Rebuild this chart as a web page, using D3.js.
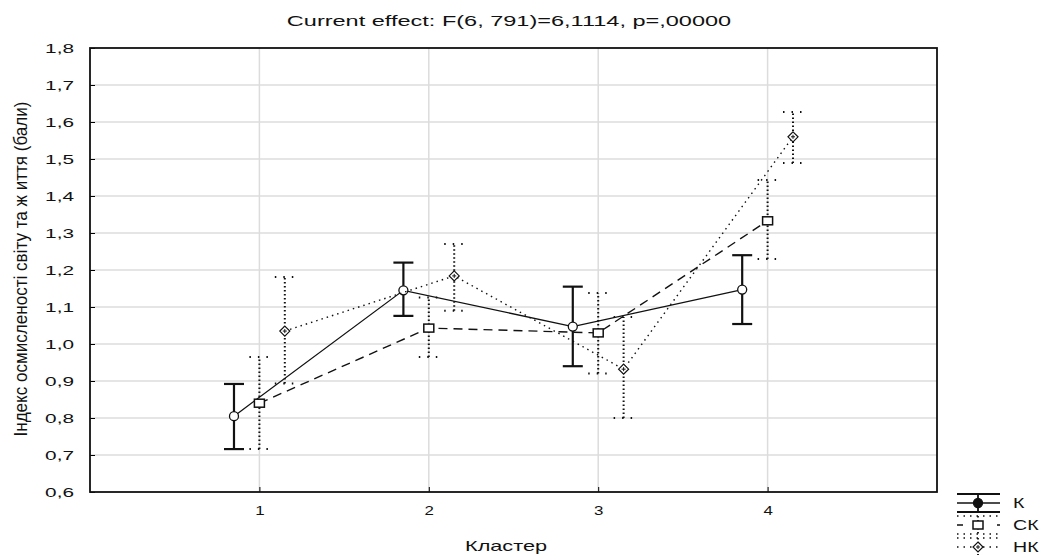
<!DOCTYPE html>
<html>
<head>
<meta charset="utf-8">
<script src="https://cdn.jsdelivr.net/npm/d3@7"></script>
<style>
  body { margin: 0; background: #fff; }
  text { font-family: "Liberation Sans", Arial, sans-serif; fill: #111; }
</style>
</head>
<body>
<div id="chart"></div>
<script>
// data
const clusters = [1, 2, 3, 4];
const yTicks = [0.6, 0.7, 0.8, 0.9, 1.0, 1.1, 1.2, 1.3, 1.4, 1.5, 1.6, 1.7, 1.8];

const meanK = [0.805, 1.145, 1.047, 1.147];
const loK   = [0.716, 1.076, 0.940, 1.054];
const hiK   = [0.892, 1.220, 1.155, 1.240];

const meanCK = [0.840, 1.043, 1.030, 1.333];
const loCK   = [0.716, 0.965, 0.920, 1.230];
const hiCK   = [0.965, 1.126, 1.138, 1.443];

const meanHK = [1.035, 1.184, 0.932, 1.560];
const loHK   = [0.893, 1.090, 0.800, 1.489];
const hiHK   = [1.181, 1.270, 1.073, 1.627];

const groupNames = ["К", "СК", "НК"];

const series = [
  {name: groupNames[0], mean: meanK, lo: loK, hi: hiK, offset: -0.15, dash: null, barDash: null, marker: "circle"},
  {name: groupNames[1], mean: meanCK, lo: loCK, hi: hiCK, offset: 0, dash: "9,6", barDash: "1.5,2.5", marker: "square"},
  {name: groupNames[2], mean: meanHK, lo: loHK, hi: hiHK, offset: 0.15, dash: "1.5,4", barDash: "1.5,2.5", marker: "diamond"}
];

const width = 1041, height = 555;
const margin = {top: 48, right: 104, bottom: 63, left: 90};
// the source picture is stretched sideways, so text gets a horizontal scale
const sx = 1.6;

const svg = d3.select("#chart").append("svg")
  .attr("width", width).attr("height", height);

const x = d3.scaleLinear().domain([0, 5]).range([margin.left, width - margin.right]);
const y = d3.scaleLinear().domain([0.6, 1.8]).range([height - margin.bottom, margin.top]);
const fmt = d => d3.format(".1f")(d).replace(".", ",");

const wideText = (px, py, str, size, anchor, k = sx) =>
  svg.append("text")
    .attr("transform", `translate(${px},${py}) scale(${k},1)`)
    .attr("text-anchor", anchor)
    .style("font-size", size + "px")
    .text(str);

// grid
svg.append("g").selectAll("line").data(yTicks.slice(1, -1)).join("line")
  .attr("x1", x(0)).attr("x2", x(5))
  .attr("y1", d => y(d)).attr("y2", d => y(d))
  .attr("stroke", "#dcdcdc").attr("stroke-width", 1.5);
svg.append("g").selectAll("line").data(clusters).join("line")
  .attr("x1", d => x(d)).attr("x2", d => x(d))
  .attr("y1", y(0.6)).attr("y2", y(1.8))
  .attr("stroke", "#dcdcdc").attr("stroke-width", 1.5);

// axes (ticks inside)
const yAxis = svg.append("g")
  .attr("transform", `translate(${x(0)},0)`)
  .call(d3.axisLeft(y).tickValues(yTicks).tickSize(-5).tickPadding(12).tickFormat(fmt));
yAxis.select(".domain").remove();
yAxis.selectAll(".tick text")
  .attr("x", -16 / sx)
  .attr("transform", `scale(${sx},1)`)
  .style("font-size", "13px");

const xAxis = svg.append("g")
  .attr("transform", `translate(0,${y(0.6)})`)
  .call(d3.axisBottom(x).tickValues(clusters).tickSize(-5).tickPadding(14).tickFormat(d3.format("d")));
xAxis.select(".domain").remove();
xAxis.selectAll(".tick text")
  .attr("transform", "scale(1.3,1)")
  .style("font-size", "13px");

// frame
svg.append("rect")
  .attr("x", x(0)).attr("y", y(1.8))
  .attr("width", x(5) - x(0)).attr("height", y(0.6) - y(1.8))
  .attr("fill", "none").attr("stroke", "#111").attr("stroke-width", 1.8);

// titles
wideText(509, 26, "Current effect: F(6, 791)=6,1114, p=,00000", 14, "middle", 1.68);
wideText(506, 551, "Кластер", 14, "middle", 1.55);
svg.append("text")
  .attr("transform", `translate(27,${(y(0.6) + y(1.8)) / 2 - 1}) rotate(-90) scale(1,1.25)`)
  .attr("text-anchor", "middle")
  .attr("textLength", 335).attr("lengthAdjust", "spacingAndGlyphs")
  .style("font-size", "15px")
  .text("Індекс осмисленості світу та ж иття (бали)");

const drawMarker = (g, type, cx, cy, fill) => {
  if (type === "circle") {
    g.append("circle").attr("cx", cx).attr("cy", cy).attr("r", 4.5)
      .attr("fill", fill).attr("stroke", "#111").attr("stroke-width", 1.3);
  } else if (type === "square") {
    g.append("rect").attr("x", cx - 5).attr("y", cy - 4).attr("width", 10).attr("height", 8)
      .attr("fill", fill).attr("stroke", "#111").attr("stroke-width", 1.5);
  } else {
    g.append("path").attr("d", `M${cx},${cy - 5}L${cx + 5},${cy}L${cx},${cy + 5}L${cx - 5},${cy}Z`)
      .attr("fill", fill).attr("stroke", "#111").attr("stroke-width", 1.2);
    g.append("path").attr("d", `M${cx - 2},${cy}H${cx + 2}M${cx},${cy - 2}V${cy + 2}`)
      .attr("stroke", "#111").attr("stroke-width", 1);
  }
};

const line = d3.line();

series.forEach(s => {
  const g = svg.append("g");
  const pts = clusters.map((c, i) => [x(c + s.offset), y(s.mean[i])]);
  g.append("path").attr("d", line(pts))
    .attr("fill", "none").attr("stroke", "#111")
    .attr("stroke-width", s.dash ? 1.4 : 1.3)
    .attr("stroke-dasharray", s.dash);

  clusters.forEach((c, i) => {
    const cx = x(c + s.offset);
    const w = s.barDash ? 2 : 2.2;
    g.append("line").attr("x1", cx).attr("x2", cx)
      .attr("y1", y(s.lo[i])).attr("y2", y(s.hi[i]))
      .attr("stroke", "#111").attr("stroke-width", w).attr("stroke-dasharray", s.barDash);
    [s.lo[i], s.hi[i]].forEach(v => {
      g.append("line").attr("x1", cx - 10).attr("x2", cx + 10)
        .attr("y1", y(v)).attr("y2", y(v))
        .attr("stroke", "#111").attr("stroke-width", w)
        .attr("stroke-dasharray", s.barDash ? "1.5,7" : null);
    });
    drawMarker(g, s.marker, cx, y(s.mean[i]), "#fff");
  });
});

// legend
const legY = [503, 525, 547];
series.forEach((s, i) => {
  const g = svg.append("g");
  const ly = legY[i];
  const x0 = 957, x1 = 1000, mid = 978;
  [ly - 9, ly + 9].forEach(yy => {
    g.append("line").attr("x1", x0).attr("x2", x1).attr("y1", yy).attr("y2", yy)
      .attr("stroke", "#111").attr("stroke-width", s.barDash ? 1.5 : 1.8)
      .attr("stroke-dasharray", s.barDash ? "1.5,5" : null);
  });
  g.append("line").attr("x1", x0).attr("x2", x1).attr("y1", ly).attr("y2", ly)
    .attr("stroke", "#111").attr("stroke-width", 1.5)
    .attr("stroke-dasharray", s.dash ? (i === 1 ? "6,14" : "1.5,5") : null);
  g.append("line").attr("x1", mid).attr("x2", mid).attr("y1", ly - 9).attr("y2", ly + 9)
    .attr("stroke", "#111").attr("stroke-width", 1.8).attr("stroke-dasharray", s.barDash);
  drawMarker(g, s.marker, mid, ly, i === 0 ? "#111" : "#fff");
  svg.append("text")
    .attr("transform", `translate(1013,${ly + 5}) scale(1.4,1)`)
    .style("font-size", "14px").text(s.name);
});
</script>
</body>
</html>
